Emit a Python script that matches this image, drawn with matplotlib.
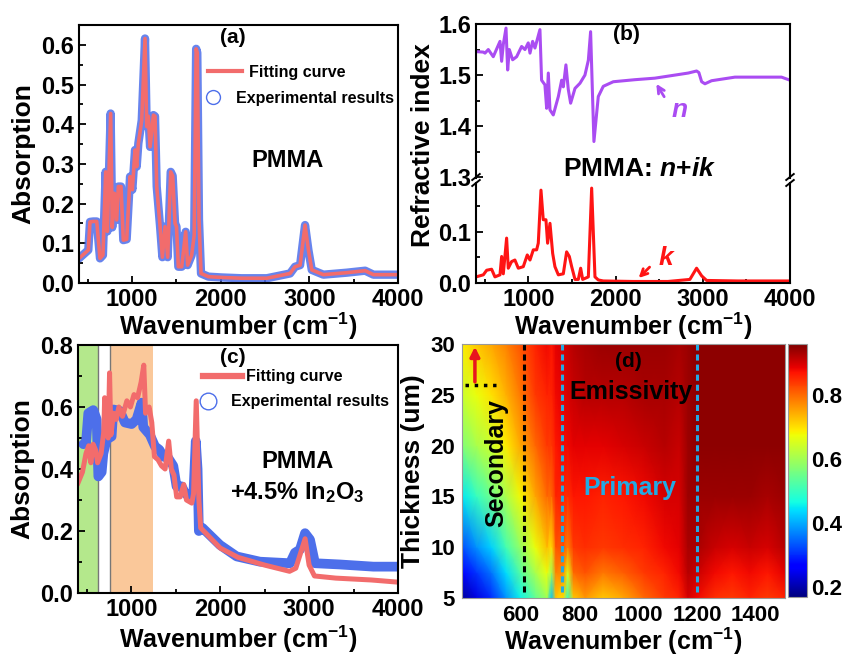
import numpy as np
import matplotlib
matplotlib.use("Agg")
import matplotlib.pyplot as plt
from matplotlib.ticker import MultipleLocator
from matplotlib.colors import Normalize
from matplotlib.lines import Line2D

plt.rcParams.update({
    'font.family': ['Liberation Sans', 'DejaVu Sans'],
    'font.weight': 'bold',
    'axes.labelweight': 'bold',
    'mathtext.fontset': 'custom',
    'mathtext.rm': 'Liberation Sans:bold',
    'mathtext.bf': 'Liberation Sans:bold',
    'mathtext.it': 'Liberation Sans:italic:bold',
    'mathtext.default': 'rm',
})

###########################################################
# data

# (a) PMMA absorption
WA = [400, 505, 524, 560, 600, 637, 670, 701, 720, 757, 775, 799, 825, 844, 874, 900, 938,
      976, 1002, 1032, 1051, 1070, 1108, 1145, 1164, 1183, 1202, 1240, 1258, 1277, 1315, 1341,
      1371, 1401, 1435, 1457, 1484, 1500, 1521, 1559, 1604, 1626, 1671, 1700, 1722, 1735, 1754,
      1777, 1860, 2010, 2236, 2519, 2782, 2838, 2895, 2951, 2989, 3027, 3158, 3422, 3629,
      3723, 3987]
A_FIT = [0.062, 0.083, 0.154, 0.155, 0.155, 0.062, 0.07, 0.28, 0.13, 0.427, 0.14, 0.226, 0.159,
         0.243, 0.243, 0.108, 0.11, 0.268, 0.235, 0.335, 0.293, 0.352, 0.41, 0.616, 0.394, 0.42,
         0.343, 0.423, 0.42, 0.243, 0.142, 0.065, 0.142, 0.065, 0.28, 0.27, 0.15, 0.142, 0.041,
         0.041, 0.129, 0.045, 0.07, 0.12, 0.59, 0.58, 0.16, 0.024, 0.016, 0.014, 0.012, 0.012,
         0.024, 0.041, 0.045, 0.146, 0.083, 0.033, 0.021, 0.026, 0.031, 0.021, 0.021]
A_EXP = A_FIT

# (b) refractive index n and extinction k
WN = [400, 484, 503, 541, 598, 675, 694, 713, 744, 763, 782, 820, 866, 923, 961, 999, 1019, 1049,
      1076, 1133, 1152, 1190, 1210, 1229, 1248, 1286, 1344, 1382, 1401, 1431, 1458, 1485, 1535,
      1592, 1649, 1688, 1714, 1733, 1752, 1802, 1859, 1974, 2222, 2451, 2680, 2833, 2929, 2955,
      2987, 3025, 3101, 3368, 3903, 4000]
N = [1.546, 1.545, 1.543, 1.55, 1.536, 1.566, 1.527, 1.56, 1.592, 1.51, 1.55, 1.53, 1.536, 1.556,
     1.55, 1.563, 1.543, 1.566, 1.553, 1.589, 1.49, 1.481, 1.435, 1.504, 1.432, 1.422, 1.458,
     1.49, 1.477, 1.52, 1.472, 1.445, 1.474, 1.484, 1.5, 1.529, 1.585, 1.477, 1.37, 1.458, 1.478,
     1.487, 1.491, 1.494, 1.5, 1.504, 1.508, 1.505, 1.487, 1.483, 1.489, 1.496, 1.496, 1.49]
WK = [400, 484, 522, 579, 617, 675, 694, 713, 751, 770, 808, 846, 885, 942, 988, 1019, 1057, 1095,
      1114, 1145, 1171, 1202, 1221, 1248, 1279, 1305, 1344, 1401, 1439, 1470, 1497, 1535, 1573,
      1600, 1623, 1688, 1726, 1764, 1802, 1859, 2200, 2600, 2852, 2929, 2987, 3044, 3400, 4000]
K = [0.012, 0.016, 0.025, 0.027, 0.012, 0.016, 0.052, 0.018, 0.088, 0.029, 0.042, 0.045, 0.029,
     0.032, 0.055, 0.045, 0.065, 0.065, 0.078, 0.182, 0.124, 0.124, 0.078, 0.117, 0.058, 0.032,
     0.016, 0.018, 0.061, 0.052, 0.032, 0.007, 0.007, 0.029, 0.007, 0.012, 0.186, 0.012, 0.006,
     0.004, 0.003, 0.003, 0.007, 0.029, 0.014, 0.005, 0.004, 0.004]

# (c) PMMA + 4.5% In2O3 absorption
WC_EXP = [460, 490, 516, 572, 610, 629, 666, 685, 722, 778, 797, 872, 928, 1003, 1059, 1116, 1134,
          1209, 1266, 1316, 1359, 1416, 1472, 1509, 1566, 1603, 1650, 1700, 1725, 1745, 1760,
          1800, 1997, 2185, 2447, 2785, 2841, 2897, 2954, 3010, 3066, 3348, 3723, 3985]
C_EXP = [0.48, 0.484, 0.58, 0.59, 0.56, 0.376, 0.39, 0.45, 0.495, 0.505, 0.592, 0.587, 0.55,
         0.545, 0.56, 0.614, 0.535, 0.51, 0.473, 0.462, 0.44, 0.435, 0.41, 0.344, 0.344, 0.323,
         0.31, 0.33, 0.49, 0.4, 0.2, 0.21, 0.155, 0.118, 0.101, 0.096, 0.13, 0.14, 0.193, 0.172,
         0.096, 0.092, 0.085, 0.085]
WC_FIT = [400, 450, 490, 520, 545, 570, 600, 620, 660, 690, 700, 720, 740, 755, 770, 800, 830,
          860, 900, 950, 990, 1030, 1070, 1110, 1140, 1160, 1200, 1230, 1260, 1300, 1340, 1380,
          1420, 1450, 1480, 1510, 1550, 1590, 1620, 1680, 1700, 1730, 1760, 1780, 2000, 2200,
          2500, 2780, 2850, 2955, 3000, 3060, 3300, 3700, 4000]
C_FIT = [0.355, 0.39, 0.45, 0.475, 0.42, 0.48, 0.46, 0.42, 0.45, 0.52, 0.63, 0.52, 0.5, 0.71,
         0.51, 0.58, 0.56, 0.6, 0.57, 0.62, 0.6, 0.64, 0.63, 0.68, 0.735, 0.58, 0.6, 0.55, 0.44,
         0.43, 0.41, 0.4, 0.49, 0.4, 0.38, 0.31, 0.31, 0.35, 0.3, 0.29, 0.32, 0.62, 0.3, 0.21,
         0.145, 0.115, 0.09, 0.07, 0.08, 0.175, 0.09, 0.055, 0.048, 0.042, 0.035]
GREEN_BAND = (400, 620)
ORANGE_BAND = (765, 1240)

# (d) emissivity map, one row per wavenumber, columns follow T_D
W_D = [400, 450, 500, 550, 600, 650, 690, 705, 720, 745, 760, 780, 820, 880, 950, 1020, 1090,
       1140, 1170, 1200, 1260, 1320, 1380, 1440, 1500]
T_D = [5, 7.5, 10, 15, 20, 25, 30]
EMIS = [
    [0.19, 0.26, 0.33, 0.45, 0.57, 0.64, 0.69],
    [0.24, 0.31, 0.38, 0.50, 0.61, 0.67, 0.72],
    [0.30, 0.36, 0.43, 0.55, 0.64, 0.70, 0.75],
    [0.38, 0.44, 0.51, 0.61, 0.69, 0.74, 0.78],
    [0.46, 0.53, 0.59, 0.68, 0.75, 0.79, 0.82],
    [0.54, 0.61, 0.67, 0.75, 0.80, 0.84, 0.86],
    [0.60, 0.67, 0.73, 0.80, 0.84, 0.86, 0.88],
    [0.42, 0.60, 0.70, 0.80, 0.84, 0.86, 0.87],
    [0.72, 0.78, 0.82, 0.86, 0.87, 0.88, 0.89],
    [0.70, 0.77, 0.82, 0.86, 0.88, 0.89, 0.90],
    [0.50, 0.66, 0.78, 0.85, 0.88, 0.90, 0.91],
    [0.72, 0.80, 0.84, 0.87, 0.89, 0.91, 0.92],
    [0.76, 0.82, 0.85, 0.87, 0.89, 0.92, 0.93],
    [0.72, 0.79, 0.84, 0.86, 0.89, 0.92, 0.94],
    [0.75, 0.81, 0.85, 0.87, 0.90, 0.92, 0.94],
    [0.80, 0.84, 0.86, 0.88, 0.91, 0.93, 0.94],
    [0.84, 0.86, 0.88, 0.90, 0.92, 0.93, 0.94],
    [0.86, 0.88, 0.89, 0.90, 0.91, 0.92, 0.93],
    [0.90, 0.92, 0.93, 0.94, 0.94, 0.94, 0.94],
    [0.88, 0.91, 0.93, 0.94, 0.95, 0.95, 0.95],
    [0.85, 0.88, 0.91, 0.94, 0.95, 0.95, 0.95],
    [0.84, 0.87, 0.90, 0.94, 0.95, 0.95, 0.95],
    [0.86, 0.88, 0.91, 0.94, 0.95, 0.95, 0.95],
    [0.84, 0.87, 0.90, 0.93, 0.95, 0.95, 0.95],
    [0.86, 0.89, 0.92, 0.94, 0.95, 0.95, 0.95],
]
SECONDARY_EDGE = 610
PRIMARY_EDGES = [740, 1200]
MARK_W = [410, 515]
MARK_T = 26

###########################################################

RED = '#F26C6C'
BLUE = '#4D6FEA'
PURPLE = '#AA4CF2'
KRED = '#FF1414'
CYAN = '#22AAE4'
XLAB = r'Wavenumber (cm$^{-1}$)'

W, H = 846, 658


def box(l, t, r, b):
    return [l/W, 1 - b/H, (r - l)/W, (b - t)/H]


def style(ax, size=17):
    for s in ax.spines.values():
        s.set_linewidth(1.5)
    ax.tick_params(which='both', direction='in', labelsize=size, width=1.3,
                   top=False, right=False)
    ax.tick_params(which='major', length=5)
    ax.tick_params(which='minor', length=3)


def two_legends(ax, l0, y_fit, y_exp, lw, ms, tpad1, tpad2, hl1):
    # origin style legend: two rows placed separately (pixel positions)
    x0, x1 = ax.get_position().x0 * W, ax.get_position().x1 * W
    y0, y1 = (1 - ax.get_position().y1) * H, (1 - ax.get_position().y0) * H
    fx = lambda px: (px - x0) / (x1 - x0)
    fy = lambda py: (y1 - py) / (y1 - y0)
    lg = ax.legend([Line2D([], [], color=RED, lw=lw)], ['Fitting curve'], loc='center left',
                   bbox_to_anchor=(fx(l0), fy(y_fit)), frameon=False, fontsize=11.5,
                   handlelength=hl1, handletextpad=tpad1, borderpad=0, borderaxespad=0)
    ax.add_artist(lg)
    ax.legend([Line2D([], [], ls='none', marker='o', ms=ms, mfc='none', mec=BLUE, mew=1)],
              ['Experimental results'], loc='center left',
              bbox_to_anchor=(fx(l0 - 2), fy(y_exp)), frameon=False, fontsize=11.5,
              handlelength=0.9, handletextpad=tpad2, borderpad=0, borderaxespad=0)


fig = plt.figure(figsize=(W/100, H/100), dpi=100)

# (a)
ax = fig.add_axes(box(79, 25, 398, 283))
ax.plot(WA, A_EXP, color=BLUE, lw=6, alpha=0.85, solid_capstyle='round')
ax.plot(WA, A_FIT, color=RED, lw=2.6)
ax.set_xlim(400, 4000)
ax.set_ylim(0, 0.65)
ax.xaxis.set_major_locator(MultipleLocator(1000))
ax.xaxis.set_minor_locator(MultipleLocator(500))
ax.yaxis.set_major_locator(MultipleLocator(0.1))
ax.yaxis.set_minor_locator(MultipleLocator(0.05))
ax.yaxis.set_major_formatter('{x:.1f}')
style(ax)
ax.set_xlabel(XLAB, fontsize=18, labelpad=0)
ax.set_ylabel('Absorption', fontsize=19, labelpad=4)
ax.text(0.483, 0.95, '(a)', transform=ax.transAxes, fontsize=15, ha='center', va='center')
ax.text(0.655, 0.45, 'PMMA', transform=ax.transAxes, fontsize=17, ha='center', va='baseline')
two_legends(ax, 208, 72, 98, 3, 10, 0.45, 1.0, 2.1)

# (b)
axu = fig.add_axes(box(476, 24, 790, 178))
axl = fig.add_axes(box(476, 183, 790, 283))
axu.plot(WN, N, color=PURPLE, lw=2.2)
axl.plot(WK, K, color=KRED, lw=2.2)
axu.set_ylim(1.2986, 1.6)
axl.set_ylim(0, 0.196)
for a in (axu, axl):
    a.set_xlim(400, 4000)
    a.xaxis.set_major_locator(MultipleLocator(1000))
    a.xaxis.set_minor_locator(MultipleLocator(500))
    a.yaxis.set_major_locator(MultipleLocator(0.1))
    a.yaxis.set_minor_locator(MultipleLocator(0.05))
    a.yaxis.set_major_formatter('{x:.1f}')
    style(a)
axu.spines['bottom'].set_visible(False)
axl.spines['top'].set_visible(False)
axu.tick_params(which='both', bottom=False, labelbottom=False)
axl.set_xlabel(XLAB, fontsize=18, labelpad=0)
fig.text(423/W, 1 - 145/H, 'Refractive index', rotation=90, fontsize=19,
         ha='center', va='center')
for xx in (0, 1):
    for dy in (0.0, 0.06):
        axl.plot([xx - 0.012, xx + 0.012], [1.0 + dy - 0.03, 1.0 + dy + 0.03],
                 transform=axl.transAxes, color='k', lw=1.4, clip_on=False)
axu.text(0.478, 0.93, '(b)', transform=axu.transAxes, fontsize=15, ha='center', va='center')
axu.text(0.52, 0.015, r'PMMA: $\mathit{n}$+$\mathit{ik}$', transform=axu.transAxes,
         fontsize=19, ha='center', va='baseline')
axu.annotate('', xy=(2451, 1.4875), xytext=(2574, 1.453),
             arrowprops=dict(arrowstyle='->', color=PURPLE, lw=2, mutation_scale=12))
axu.text(2738, 1.432, 'n', color=PURPLE, fontsize=19, style='italic', ha='center', va='center')
axl.annotate('', xy=(2242, 0.006), xytext=(2413, 0.035),
             arrowprops=dict(arrowstyle='->', color=KRED, lw=2, mutation_scale=12))
axl.text(2578, 0.049, 'k', color=KRED, fontsize=19, style='italic', ha='center', va='center')

# (c)
ax = fig.add_axes(box(78, 345, 398, 593))
ax.axvspan(*GREEN_BAND, color='#B4E88C', lw=0)
ax.axvspan(*ORANGE_BAND, color='#FAC89A', lw=0)
ax.axvline(GREEN_BAND[1], color='#777777', lw=1)
ax.axvline(ORANGE_BAND[0], color='#777777', lw=1)
ax.plot(WC_EXP, C_EXP, color=BLUE, lw=7, solid_capstyle='round')
ax.plot(WC_FIT, C_FIT, color=RED, lw=3.6)
ax.set_xlim(400, 4000)
ax.set_ylim(0, 0.8)
ax.xaxis.set_major_locator(MultipleLocator(1000))
ax.xaxis.set_minor_locator(MultipleLocator(500))
ax.yaxis.set_major_locator(MultipleLocator(0.2))
ax.yaxis.set_minor_locator(MultipleLocator(0.1))
ax.yaxis.set_major_formatter('{x:.1f}')
style(ax)
ax.set_xlabel(XLAB, fontsize=18, labelpad=2)
ax.set_ylabel('Absorption', fontsize=19, labelpad=4)
ax.text(0.484, 0.95, '(c)', transform=ax.transAxes, fontsize=15, ha='center', va='center')
ax.text(0.685, 0.505, 'PMMA', transform=ax.transAxes, fontsize=17, ha='center', va='baseline')
ax.text(0.685, 0.38, r'+4.5% In$_2$O$_3$', transform=ax.transAxes, fontsize=17,
        ha='center', va='baseline')
two_legends(ax, 203, 377, 402, 4.5, 12, 0.25, 1.0, 2.45)

# (d)
ax = fig.add_axes(box(462, 344, 785, 598))
cax = fig.add_axes(box(788, 344, 807, 597))
norm = Normalize(vmin=0.17, vmax=0.96)
mesh = ax.pcolormesh(W_D, T_D, np.array(EMIS).T, shading='gouraud', cmap='jet', norm=norm)
ax.set_xlim(400, 1500)
ax.set_ylim(5, 30)
ax.set_xticks([600, 800, 1000, 1200, 1400])
ax.set_yticks([5, 10, 15, 20, 25, 30])
ax.tick_params(length=0, labelsize=16, pad=5)
for s in ax.spines.values():
    s.set_color('#999999')
ax.set_xlabel(XLAB, fontsize=18, labelpad=0)
ax.set_ylabel('Thickness (um)', fontsize=19, labelpad=4)
ax.axvline(SECONDARY_EDGE, ymin=0.025, ymax=1, color='k', ls=(0, (2, 1.3)), lw=2.2)
for e in PRIMARY_EDGES:
    ax.axvline(e, ymin=0.025, ymax=1, color=CYAN, ls=(0, (2, 1.3)), lw=2.2)
ax.plot(MARK_W, [MARK_T, MARK_T], color='k', ls=':', lw=2.5)
ax.annotate('', xy=(444, 30), xytext=(444, MARK_T),
            arrowprops=dict(arrowstyle='-|>', color='#E8141E', lw=2.5, mutation_scale=14),
            annotation_clip=False)
ax.text(0.514, 0.93, '(d)', transform=ax.transAxes, fontsize=15, ha='center', va='center')
ax.text(0.523, 0.782, 'Emissivity', transform=ax.transAxes, fontsize=18, ha='center',
        va='baseline')
ax.text(0.52, 0.405, 'Primary', transform=ax.transAxes, fontsize=18, ha='center',
        va='baseline', color=CYAN)
ax.text(0.105, 0.53, 'Secondary', transform=ax.transAxes, fontsize=18, ha='center',
        va='center', rotation=90)
cb = fig.colorbar(mesh, cax=cax, ticks=[0.2, 0.4, 0.6, 0.8])
cb.ax.tick_params(length=0, labelsize=16, pad=3)
cb.outline.set_edgecolor('#999999')

fig.savefig('out.png', dpi=100)
